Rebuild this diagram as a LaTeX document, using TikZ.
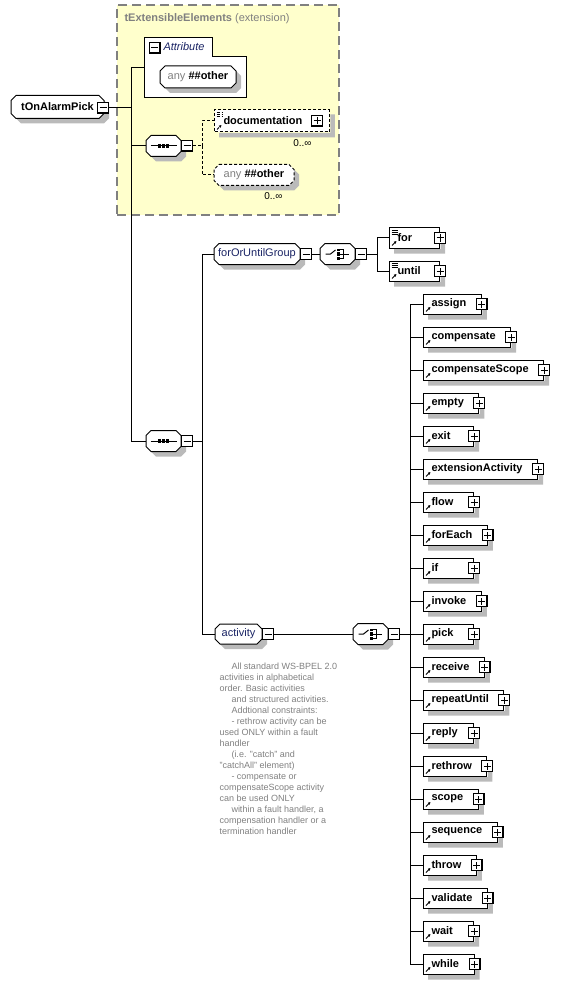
\documentclass[tikz,border=0pt]{standalone}
\usepackage{fontspec}
\setmainfont{Liberation Sans}
\usetikzlibrary{arrows.meta,positioning,calc}
\definecolor{extfill}{RGB}{255,255,204}
\definecolor{extline}{RGB}{128,128,128}
\definecolor{grpblue}{RGB}{25,35,100}
\definecolor{notegray}{RGB}{128,128,128}
\colorlet{shadowgray}{black!27}

% name text with a minimum width, left aligned
\newcommand\elname[1]{\setbox0\hbox{#1}\ifdim\wd0<27pt\hbox to 27pt{#1\hfil}\else\box0\fi}
% outline of an octagon round a node, moved by #2 to the lower right
\newcommand\octpath[2]{($(#1.north west)+(5pt+#2,-#2)$) -- ($(#1.north east)+(-5pt+#2,-#2)$)
  -- ($(#1.north east)+(#2,-5pt-#2)$) -- ($(#1.south east)+(#2,5pt-#2)$)
  -- ($(#1.south east)+(-5pt+#2,-#2)$) -- ($(#1.south west)+(5pt+#2,-#2)$)
  -- ($(#1.south west)+(#2,5pt-#2)$) -- ($(#1.north west)+(#2,-5pt-#2)$) -- cycle}
% octagon node: #1 options, #2 name, #3 position, #4 line style, #5 text
\newcommand\octnode[5][]{%
  \node[octshape, #1] (#2) at (#3) {};
  \fill[shadowgray] \octpath{#2}{5pt};
  \draw[fill=white, #4] \octpath{#2}{0pt};
  \node[inner sep=0pt] (#2-t) at (#2.center) {#5};}
% shadow strips right of and below a box
\newcommand\boxshade[1]{\fill[shadowgray]
  ($(#1.north east)+(0.5pt,-5pt)$) rectangle ($(#1.south east)+(5pt,-5pt)$)
  ($(#1.south west)+(5pt,-0.5pt)$) rectangle ($(#1.south east)+(0.5pt,-5pt)$);}
% compositor marks
\newcommand\seqmark[1]{%
  \draw ([xshift=-13pt]#1.center) -- ([xshift=13pt]#1.center);
  \foreach \dx in {-4,0,4}
    \fill ([xshift=\dx pt]#1.center) +(-1.6pt,-1.6pt) rectangle +(1.6pt,1.6pt);}
\newcommand\choicemark[1]{%
  \draw ([xshift=-12pt]#1.center) -- ([xshift=-7pt]#1.center) -- ([shift={(-2pt,4pt)}]#1.center);
  \fill ([shift={(-0.5pt,3pt)}]#1.center) rectangle ++(2.5pt,2.5pt);
  \fill ([shift={(-1pt,-1.6pt)}]#1.center) rectangle ++(3.2pt,3.2pt);
  \fill ([shift={(-0.5pt,-5.5pt)}]#1.center) rectangle ++(2.5pt,2.5pt);
  \draw ([shift={(2pt,4.2pt)}]#1.center) -| ([shift={(5.5pt,-4.2pt)}]#1.center) -- ([shift={(2pt,-4.2pt)}]#1.center);
  \draw ([shift={(2pt,0pt)}]#1.center) -- ([shift={(11pt,0pt)}]#1.center);}

\tikzset{
  every node/.style={font=\fontsize{11}{13}\selectfont},
  refmark/.style={path picture={
    \draw[line width=1pt, -{Latex[length=2.5pt,width=3pt]}] ([shift={(2.5pt,2.5pt)}]path picture bounding box.south west) -- ++(4.5pt,4.5pt);}},
  docmark/.style={path picture={
    \draw[line width=1pt, -{Latex[length=2.5pt,width=3pt]}] ([shift={(2.5pt,2.5pt)}]path picture bounding box.south west) -- ++(4.5pt,4.5pt);
    \foreach \dy in {2.5,4.5,6.5}
      \draw[line width=0.8pt] ([shift={(2pt,-\dy pt)}]path picture bounding box.north west) -- ++(6pt,0pt);}},
  elembox/.style={rectangle, draw, fill=white, anchor=west, refmark,
    font=\fontsize{11}{13}\selectfont\bfseries, minimum height=20pt,
    inner xsep=8pt, inner ysep=0pt, execute at end node={\hspace{7pt}}},
  optbox/.style={elembox, dash pattern=on 3pt off 2pt},
  octshape/.style={rectangle, anchor=west, minimum height=20pt, inner sep=0pt},
  expbox/.style={rectangle, draw, fill=white, minimum width=11pt, minimum height=11pt, inner sep=0pt},
  minusbox/.style={expbox, path picture={
    \draw[line width=2pt] (path picture bounding box.south west) -| (path picture bounding box.north east);
    \draw ([xshift=-3.5pt]path picture bounding box.center) -- ([xshift=3.5pt]path picture bounding box.center);}},
  plusbox/.style={expbox, path picture={
    \draw[line width=2pt] (path picture bounding box.south west) -| (path picture bounding box.north east);
    \draw ([xshift=-3.5pt]path picture bounding box.center) -- ([xshift=3.5pt]path picture bounding box.center);
    \draw ([yshift=-3.5pt]path picture bounding box.center) -- ([yshift=3.5pt]path picture bounding box.center);}},
  multlabel/.style={anchor=east, inner sep=0pt, font=\fontsize{10}{12}\selectfont},
  notetext/.style={anchor=north west, align=left, inner sep=0pt, text=notegray,
    font=\fontsize{9}{11}\selectfont},
}

\begin{document}
\begin{tikzpicture}[x=1pt, y=-1pt, line width=1pt]
\useasboundingbox (0,0) rectangle (574,984);

% extension area
\node[draw=extline, fill=extfill, line width=1.5pt, dash pattern=on 9pt off 5pt,
  minimum width=222pt, minimum height=210pt, inner sep=0pt] (ext) at (228,110) {};
\node[anchor=west, inner sep=0pt, text=extline] (exttitle) at (124,19)
  {\textbf{tExtensibleElements} (extension)};

% root element
\octnode[minimum width=92pt, minimum height=22pt]{root}{11,107}{}{\textbf{tOnAlarmPick}\hspace{12pt}}
\node[minusbox] (rootm) at (103,108) {};

% attributes
\node[minimum width=101pt, minimum height=59pt, inner sep=0pt] (attr) at (195.5,67.5) {};
\draw[fill=white] (attr.north west) -- ++(68,0) |- ([yshift=-19pt]attr.north east)
  -- (attr.south east) -- (attr.south west) -- cycle;
\node[minusbox] (attrm) at (154.5,48) {};
\node[anchor=west, inner sep=0pt, text=grpblue, font=\fontsize{11}{13}\selectfont\itshape]
  (attrtitle) at (163,47) {Attribute};
\octnode[minimum width=75pt, minimum height=21pt]{attrany}{160,77}{}
  {\textcolor{notegray}{any} \textbf{\#\#other}}

% first sequence
\octnode[minimum width=34pt]{seqa}{146,146}{}{}
\seqmark{seqa}
\node[minusbox, anchor=west] (seqam) at (seqa.east) {};
\node[optbox, docmark, minimum height=22pt, inner xsep=9pt, execute at end node={\hspace{11pt}}]
  (doc) at (214,121) {documentation};
\boxshade{doc}
\node[plusbox] (docp) at (317,121) {};
\node[multlabel] (docmult) at (312,143) {0..∞};
\octnode[minimum width=79pt]{anyel}{214,175}{dash pattern=on 3pt off 2pt}
  {\textcolor{notegray}{any} \textbf{\#\#other}}
\node[multlabel] (anymult) at (283,196) {0..∞};

% second sequence
\octnode[minimum width=34pt]{seqb}{146,441}{}{}
\seqmark{seqb}
\node[minusbox, anchor=west] (seqbm) at (seqb.east) {};

% forOrUntilGroup
\octnode[minimum width=85pt]{grp}{214,254}{}{\textcolor{grpblue}{forOrUntilGroup}}
\node[minusbox, anchor=west] (grpm) at (grp.east) {};
\octnode[minimum width=34pt]{cha}{320,254}{}{}
\choicemark{cha}
\node[minusbox, anchor=west] (cham) at (cha.east) {};
\node[elembox, docmark] (for) at (389,238) {\elname{for}};
\boxshade{for}
\node[plusbox] (forp) at (for.east) {};
\node[elembox, docmark] (until) at (389,271) {\elname{until}};
\boxshade{until}
\node[plusbox] (untilp) at (until.east) {};

% activity group
\octnode[minimum width=46pt, minimum height=19pt]{act}{215,634}{}{\textcolor{grpblue}{activity}}
\node[minusbox, anchor=west] (actm) at (act.east) {};
\node[notetext] (note) at (219,662) {%
  \hspace{12pt}All standard WS-BPEL 2.0\\
  activities in alphabetical\\
  order. Basic activities\\
  \hspace{12pt}and structured activities.\\
  \hspace{12pt}Addtional constraints:\\
  \hspace{12pt}- rethrow activity can be\\
  used ONLY within a fault\\
  handler\\
  \hspace{12pt}(i.e. "catch" and\\
  "catchAll" element)\\
  \hspace{12pt}- compensate or\\
  compensateScope activity\\
  can be used ONLY\\
  \hspace{12pt}within a fault handler, a\\
  compensation handler or a\\
  termination handler};
\octnode[minimum width=34pt]{chb}{353,634}{}{}
\choicemark{chb}
\node[minusbox, anchor=west] (chbm) at (chb.east) {};

% connectors
\draw (rootm.east) -- ++(22,0) coordinate (rootbus);
\draw (rootbus) |- (attr.west);
\draw (rootbus) |- (seqa.west);
\draw (rootbus) |- (seqb.west);
\draw[dash pattern=on 3pt off 2pt] (seqam.east) -- ++(9,0) coordinate (seqabus);
\draw[dash pattern=on 3pt off 2pt] (seqabus) |- (doc.west);
\draw[dash pattern=on 3pt off 2pt] (seqabus) |- (anyel.west);
\draw (seqbm.east) -- ++(9,0) coordinate (seqbbus);
\draw (seqbbus) |- (grp.west);
\draw (seqbbus) |- (act.west);
\draw (grpm.east) -- (cha.west);
\draw (cham.east) -- ++(10,0) coordinate (chabus);
\draw (chabus) |- (for.west);
\draw (chabus) |- (until.west);
\draw (actm.east) -- (chb.west);
\draw (chbm.east) -- ++(10,0) coordinate (chbbus);

\foreach \nm [count=\i from 0] in {assign,compensate,compensateScope,empty,exit,
    extensionActivity,flow,forEach,if,invoke,pick,receive,repeatUntil,reply,
    rethrow,scope,sequence,throw,validate,wait,while} {
  \node[elembox] (\nm) at (423,304+33*\i) {\elname{\nm}};
  \boxshade{\nm}
  \node[plusbox] (p-\nm) at (\nm.east) {};
  \draw (chbbus) |- (\nm.west);
}
\end{tikzpicture}
\end{document}
